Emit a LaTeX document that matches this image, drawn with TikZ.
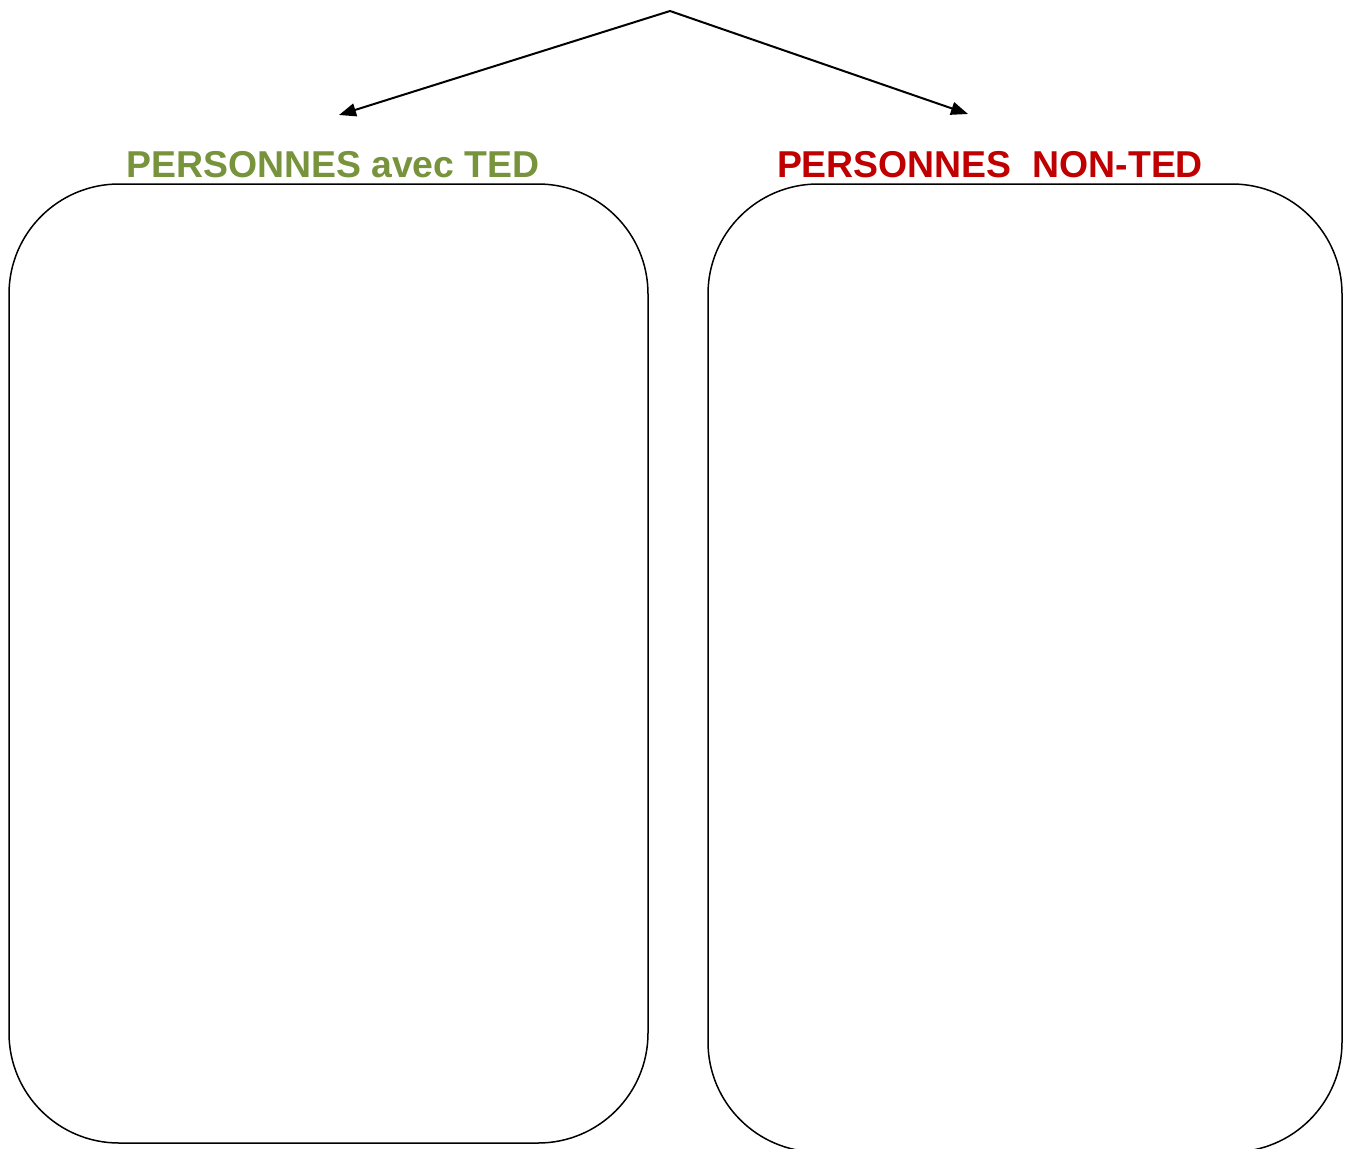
\documentclass[tikz,border=0pt]{standalone}
\usepackage{fontspec}
\setmainfont{Liberation Sans}
\usetikzlibrary{arrows.meta}
\definecolor{tedgreen}{HTML}{77933C}
\definecolor{tedred}{HTML}{C00000}
\begin{document}
\begin{tikzpicture}[x=1pt,y=-1pt,
  panel/.style={draw=black,line width=1.5pt,rounded corners=110pt,inner sep=0pt},
  title/.style={font=\bfseries\fontsize{37.4}{40}\selectfont,inner sep=0pt,anchor=base},
  tip/.tip={Triangle[length=17pt,width=13pt]},
  link/.style={line width=2pt,line join=miter,tip-tip}]
\useasboundingbox (0,0) rectangle (1351,1148);
\draw[panel] (9,184) rectangle (648,1143);
\draw[panel] (708,184) rectangle (1342,1152);
\node[title,text=tedgreen] (tleft) at (333,177) {PERSONNES avec TED};
\node[title,text=tedred] (tright) at (990,177) {PERSONNES\ \ NON-TED};
\coordinate (apex) at (670,11);
\coordinate (lend) at (339,115);
\coordinate (rend) at (968,114);
\draw[link] (lend) -- (apex) -- (rend);
\end{tikzpicture}
\end{document}
